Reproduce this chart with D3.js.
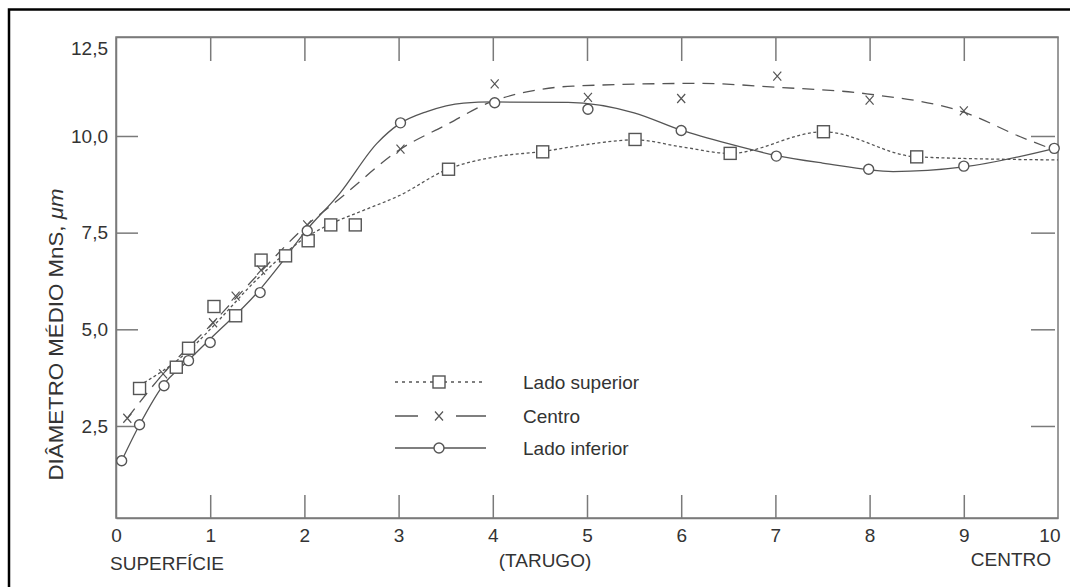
<!DOCTYPE html>
<html>
<head>
<meta charset="utf-8">
<script src="https://cdn.jsdelivr.net/npm/d3@7"></script>
<style>
  body { margin: 0; background: #fff; }
  svg { display: block; }
  text { font-family: "Liberation Sans", Arial, sans-serif; fill: #333; }
</style>
</head>
<body>
<div id="chart"></div>
<script>
// Tick values
const xTicks = [0, 1, 2, 3, 4, 5, 6, 7, 8, 9, 10];
const yTicks = [2.5, 5, 7.5, 10, 12.5];

// Series names (legend)
const seriesNames = ['Lado superior', 'Centro', 'Lado inferior'];

// Measured points [posição, diâmetro]
const superiorPts = [[0.25, 3.47], [0.64, 4.02], [0.77, 4.51], [1.04, 5.59], [1.27, 5.35], [1.54, 6.79],
  [1.80, 6.90], [2.04, 7.29], [2.28, 7.70], [2.54, 7.70], [3.53, 9.14], [4.53, 9.59], [5.51, 9.91],
  [6.52, 9.55], [7.51, 10.11], [8.50, 9.46]];
const centroPts = [[0.12, 2.70], [0.50, 3.85], [1.03, 5.17], [1.27, 5.86], [1.54, 6.53], [2.03, 7.70],
  [3.02, 9.66], [4.02, 11.35], [5.01, 11.00], [6.00, 10.97], [7.02, 11.55], [8.00, 10.93], [9.00, 10.65]];
const inferiorPts = [[0.06, 1.60], [0.25, 2.53], [0.51, 3.54], [0.77, 4.19], [1.00, 4.66], [1.53, 5.95],
  [2.03, 7.55], [3.02, 10.34], [4.02, 10.86], [5.01, 10.69], [6.00, 10.14], [7.01, 9.48], [7.99, 9.14],
  [9.00, 9.22], [9.96, 9.68]];

// Fitted trend curves
const superiorCurve = [[0.25, 3.55], [0.75, 4.4], [1.0, 5.0], [1.5, 6.3], [2.0, 7.35], [2.3, 7.75],
  [2.6, 8.05], [3.0, 8.45], [3.52, 9.14], [4.0, 9.45], [4.53, 9.6], [5.0, 9.78], [5.51, 9.9],
  [6.0, 9.72], [6.52, 9.55], [7.51, 10.11], [8.5, 9.46], [10.0, 9.38]];
const centroCurve = [[0.12, 2.70], [0.5, 3.85], [1.03, 5.17], [1.27, 5.8], [1.54, 6.5], [2.03, 7.7],
  [2.38, 8.39], [3.02, 9.66], [3.5, 10.28], [4.0, 10.9], [4.36, 11.14], [4.85, 11.29], [6.2, 11.36],
  [7.01, 11.26], [7.97, 11.09], [9.03, 10.59], [9.6, 9.98], [9.95, 9.65]];
const inferiorCurve = [[0.06, 1.60], [0.25, 2.53], [0.5, 3.55], [0.77, 4.2], [1.0, 4.75], [1.5, 5.95],
  [1.75, 6.7], [2.0, 7.5], [2.38, 8.53], [2.77, 9.81], [3.0, 10.3], [3.3, 10.63], [3.69, 10.85],
  [4.0, 10.88], [4.8, 10.87], [5.5, 10.6], [6.0, 10.15], [6.5, 9.8], [7.0, 9.5], [7.5, 9.3],
  [8.25, 9.08], [9.0, 9.2], [10.0, 9.7]];

const config = {
  width: 1070,
  height: 587,
  left: 116, right: 1058, top: 37, bottom: 518,
  axisColor: '#7a7a7a',
  lineColor: '#555',
  font: 19
};

const svg = d3.select('#chart').append('svg')
  .attr('width', config.width)
  .attr('height', config.height);

// outer frame (only top and left edges are visible)
svg.append('path')
  .attr('d', 'M9,600 V9.5 H1080')
  .attr('fill', 'none')
  .attr('stroke', '#000')
  .attr('stroke-width', 2.5);

const x = d3.scaleLinear().domain([0, 10]).range([config.left, config.right]);
const y = d3.scaleLinear().domain([0.12, 12.56]).range([config.bottom, config.top]);

const fmt = d3.formatLocale({ decimal: ',', thousands: '.', grouping: [3], currency: ['', ''] }).format('.1f');

function styleAxis(g) {
  g.selectAll('path, line').attr('stroke', config.axisColor).attr('stroke-width', 1.5);
  g.selectAll('text').attr('font-size', config.font).attr('fill', '#333')
    .attr('font-family', '"Liberation Sans", Arial, sans-serif');
}

// plot frame
svg.append('rect')
  .attr('x', x(0)).attr('y', y(12.56))
  .attr('width', x(10) - x(0)).attr('height', y(0.12) - y(12.56))
  .attr('fill', 'none').attr('stroke', config.axisColor).attr('stroke-width', 1.5);

// left axis
const gLeft = svg.append('g')
  .attr('transform', `translate(${config.left},0)`)
  .call(d3.axisLeft(y).tickValues(yTicks).tickSizeInner(-22).tickSizeOuter(0).tickPadding(8).tickFormat(fmt))
  .call(styleAxis);
gLeft.selectAll('.tick').filter(d => d === 12.5).select('line').remove();
gLeft.selectAll('.tick').filter(d => d === 12.5).select('text').attr('y', 9);

// bottom axis
const gBottom = svg.append('g')
  .attr('transform', `translate(0,${config.bottom})`)
  .call(d3.axisBottom(x).tickValues(xTicks).tickSizeInner(-23).tickSizeOuter(0).tickPadding(11))
  .call(styleAxis);
gBottom.selectAll('.tick').filter(d => d === 0 || d === 10).select('line').remove();
gBottom.selectAll('.tick').filter(d => d === 10).select('text').attr('text-anchor', 'end').attr('x', 2);

// top axis
svg.append('g')
  .attr('transform', `translate(0,${config.top})`)
  .call(d3.axisTop(x).tickValues(xTicks.slice(1, -1)).tickSizeInner(-24).tickSizeOuter(0).tickFormat(''))
  .call(styleAxis);

// right axis
const gRight = svg.append('g')
  .attr('transform', `translate(${config.right - 3},0)`)
  .call(d3.axisRight(y).tickValues(yTicks.slice(0, -1)).tickSizeInner(-24).tickSizeOuter(0).tickFormat(''))
  .call(styleAxis);
gRight.select('.domain').remove();

// axis titles
svg.append('text')
  .attr('transform', `translate(63,${(config.top + config.bottom) / 2 + 57}) rotate(-90)`)
  .attr('text-anchor', 'middle')
  .attr('font-size', 20)
  .attr('textLength', 292)
  .attr('lengthAdjust', 'spacingAndGlyphs')
  .text('DIÂMETRO MÉDIO MnS, ')
  .append('tspan').attr('font-style', 'italic').text('μm');

svg.append('text').attr('x', 110).attr('y', 570).attr('font-size', config.font).text('SUPERFÍCIE');
svg.append('text').attr('x', 545).attr('y', 567).attr('text-anchor', 'middle').attr('font-size', config.font).text('(TARUGO)');
svg.append('text').attr('x', 1051).attr('y', 566).attr('text-anchor', 'end').attr('font-size', config.font).text('CENTRO');

// curves
const line = d3.line().x(d => x(d[0])).y(d => y(d[1])).curve(d3.curveMonotoneX);

const series = [
  { curve: superiorCurve, pts: superiorPts, dash: '3,2.5', marker: 'square' },
  { curve: centroCurve, pts: centroPts, dash: '12,8', marker: 'cross' },
  { curve: inferiorCurve, pts: inferiorPts, dash: null, marker: 'circle' }
];

series.forEach(s => {
  svg.append('path')
    .datum(s.curve)
    .attr('d', line)
    .attr('fill', 'none')
    .attr('stroke', config.lineColor)
    .attr('stroke-width', 1.3)
    .attr('stroke-dasharray', s.dash);
});

function drawMarker(g, type, cx, cy) {
  if (type === 'square') {
    g.append('rect').attr('x', cx - 6).attr('y', cy - 6).attr('width', 12).attr('height', 12)
      .attr('fill', '#fff').attr('stroke', config.lineColor).attr('stroke-width', 1.4);
  } else if (type === 'circle') {
    g.append('circle').attr('cx', cx).attr('cy', cy).attr('r', 5)
      .attr('fill', '#fff').attr('stroke', config.lineColor).attr('stroke-width', 1.4);
  } else {
    g.append('path')
      .attr('d', `M${cx - 4},${cy - 4.5}L${cx + 4},${cy + 4.5}M${cx + 4},${cy - 4.5}L${cx - 4},${cy + 4.5}`)
      .attr('stroke', config.lineColor).attr('stroke-width', 1.2).attr('fill', 'none');
  }
}

series.forEach(s => {
  const g = svg.append('g');
  s.pts.forEach(p => drawMarker(g, s.marker, x(p[0]), y(p[1])));
});

// legend
const legendRows = [382, 416, 448];
const legendDash = ['3,4', '23,38,40', null];
seriesNames.forEach((name, i) => {
  const g = svg.append('g');
  const cy = legendRows[i];
  g.append('line').attr('x1', 395).attr('x2', 486).attr('y1', cy).attr('y2', cy)
    .attr('stroke', config.lineColor).attr('stroke-width', 1.3)
    .attr('stroke-dasharray', legendDash[i]);
  drawMarker(g, series[i].marker, 439, cy);
  g.append('text').attr('x', 523).attr('y', cy + 6.5).attr('font-size', config.font).text(name);
});
</script>
</body>
</html>
